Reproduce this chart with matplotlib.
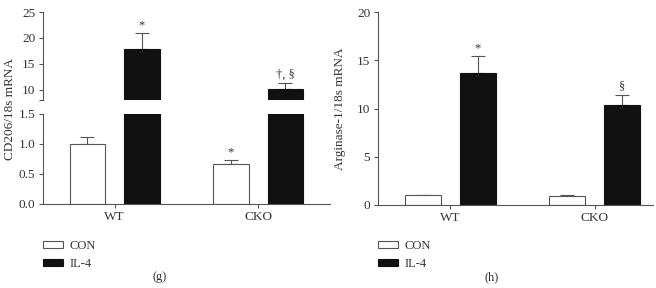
import matplotlib
matplotlib.use("Agg")
import matplotlib.pyplot as plt
from matplotlib.patches import Patch

# data
groups = ["WT", "CKO"]
cd206_con = [1.0, 0.66]
cd206_con_err = [0.11, 0.07]
cd206_il4 = [17.9, 10.1]
cd206_il4_err = [3.0, 1.2]
cd206_con_marks = ["", "*"]
cd206_il4_marks = ["*", "†, §"]

arg_con = [1.0, 0.93]
arg_con_err = [0.06, 0.05]
arg_il4 = [13.65, 10.4]
arg_il4_err = [1.8, 1.05]
arg_il4_marks = ["*", "§"]

plt.rcParams['font.family'] = ['Liberation Serif', 'DejaVu Serif']
plt.rcParams['font.size'] = 9.5
TXT = '#333333'
LINE = '#555555'
W = 0.25
OFF = 0.19
x = [0, 1]

fig = plt.figure(figsize=(6.56, 2.88), dpi=100)


def style(ax):
    for s in ['top', 'right']:
        ax.spines[s].set_visible(False)
    ax.spines['left'].set_color(LINE)
    ax.spines['bottom'].set_color(LINE)
    ax.tick_params(colors=LINE, labelcolor=TXT, length=3, width=0.8,
                   labelsize=9.5, pad=2.5)


def draw_bars(ax, con, con_err, il4, il4_err, base=0, show_con=True):
    xc = [i - OFF for i in x]
    xi = [i + OFF for i in x]
    if show_con:
        ax.bar(xc, con, W, color='white', edgecolor=LINE, linewidth=0.8, zorder=2)
        ax.errorbar(xc, con, yerr=[[0] * len(con), con_err], fmt='none',
                    ecolor=LINE, elinewidth=0.8, capsize=5, capthick=0.8, zorder=1.5)
    ax.bar(xi, [v - base for v in il4], W, bottom=base, color='#111111',
           edgecolor='#111111', linewidth=0.8, zorder=2)
    ax.errorbar(xi, il4, yerr=[[0] * len(il4), il4_err], fmt='none',
                ecolor=LINE, elinewidth=0.8, capsize=5, capthick=0.8, zorder=1.5)
    return xc, xi


def marks(ax, xs, vals, errs, labels):
    for xx, v, e, lab in zip(xs, vals, errs, labels):
        if lab:
            ax.annotate(lab, (xx, v + e), xytext=(0, 1.5), textcoords='offset points',
                        ha='center', va='bottom', color=TXT, fontsize=9)


# ---- panel (g): broken axis ----
ax_top = fig.add_axes([0.0655, 0.6528, 0.4375, 0.3055])
ax_bot = fig.add_axes([0.0655, 0.2934, 0.4375, 0.3108])
for ax in (ax_top, ax_bot):
    style(ax)
    ax.set_xlim(-0.5, 1.5)

ax_top.spines['bottom'].set_visible(False)
ax_top.set_ylim(8, 25)
ax_top.set_yticks([8, 10, 15, 20, 25])
ax_top.set_yticklabels(['', '10', '15', '20', '25'])
ax_top.set_xticks([])
xc, xi = draw_bars(ax_top, cd206_con, cd206_con_err, cd206_il4, cd206_il4_err,
                   base=8, show_con=False)
marks(ax_top, xi, cd206_il4, cd206_il4_err, cd206_il4_marks)

ax_bot.set_ylim(0, 1.5)
ax_bot.set_yticks([0, 0.5, 1.0, 1.5])
ax_bot.set_yticklabels(['0.0', '0.5', '1.0', '1.5'])
ax_bot.set_xticks(x)
ax_bot.set_xticklabels(groups)
xc, xi = draw_bars(ax_bot, cd206_con, cd206_con_err, cd206_il4, cd206_il4_err)
marks(ax_bot, xc, cd206_con, cd206_con_err, cd206_con_marks)
fig.text(0.015, 0.62, 'CD206/18s mRNA', rotation=90, ha='center', va='center',
         color=TXT, fontsize=9.5)

# ---- panel (h) ----
ax_h = fig.add_axes([0.576, 0.289, 0.419, 0.668])
style(ax_h)
ax_h.set_xlim(-0.5, 1.4)
ax_h.set_ylim(0, 20)
ax_h.set_yticks([0, 5, 10, 15, 20])
ax_h.set_xticks(x)
ax_h.set_xticklabels(groups)
xc, xi = draw_bars(ax_h, arg_con, arg_con_err, arg_il4, arg_il4_err)
marks(ax_h, xi, arg_il4, arg_il4_err, arg_il4_marks)
ax_h.set_ylabel('Arginase-1/18s mRNA', color=TXT, fontsize=9.5, labelpad=8)

# legends
handles = [Patch(facecolor='white', edgecolor=LINE, linewidth=0.8, label='CON'),
           Patch(facecolor='#111111', edgecolor='#111111', linewidth=0.8, label='IL-4')]
for lx in (0.0655, 0.576):
    leg = fig.legend(handles=handles, loc='upper left', bbox_to_anchor=(lx, 0.168),
                     frameon=False, handlelength=1.6, handleheight=0.5,
                     handletextpad=0.55, labelspacing=0.5, borderpad=0,
                     borderaxespad=0, fontsize=9)
    for t in leg.get_texts():
        t.set_color(TXT)

fig.text(160 / 656, 1 - 277 / 288, '(g)', ha='center', va='center', color=TXT, fontsize=9)
fig.text(492 / 656, 1 - 277 / 288, '(h)', ha='center', va='center', color=TXT, fontsize=9)

fig.savefig('out.png', dpi=100)
